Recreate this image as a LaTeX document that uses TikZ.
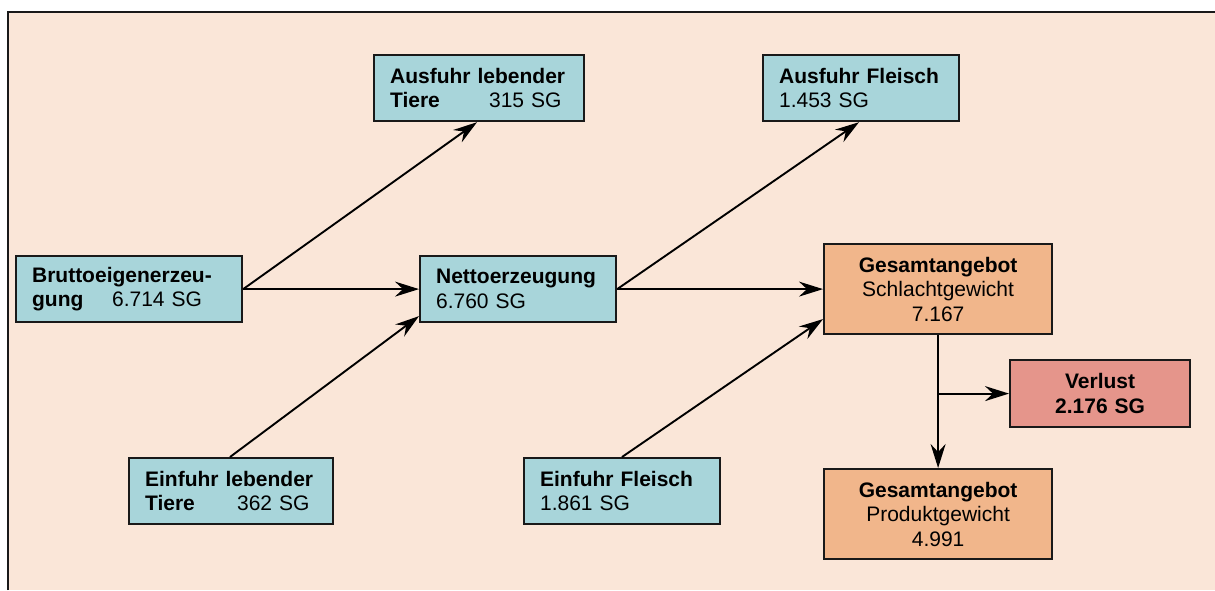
\documentclass[tikz,border=0pt]{standalone}
\usepackage{fontspec}
\setmainfont{Liberation Sans}
\usetikzlibrary{arrows.meta}
\definecolor{bgpeach}{RGB}{250,230,216}
\definecolor{boxblue}{RGB}{168,213,218}
\definecolor{boxorange}{RGB}{241,182,139}
\definecolor{boxred}{RGB}{229,149,139}
\begin{document}
\begin{tikzpicture}[x=1pt,y=-1pt,
  box/.style={draw=black!90, line width=2.2pt, anchor=north west, inner xsep=16pt, inner ysep=0pt, font=\fontsize{21}{24.5}\selectfont},
  bluebox/.style={box, fill=boxblue, align=left},
  orangebox/.style={box, fill=boxorange, align=center},
  redbox/.style={box, fill=boxred, align=center, font=\fontsize{21}{24.5}\selectfont\bfseries},
  flow/.style={line width=1.9pt, -{Stealth[length=24pt,width=15pt,inset=8pt]}}]
\useasboundingbox (0,0) rectangle (1215,590);
\fill[white] (0,0) rectangle (1215,590);
\fill[bgpeach] (8,12) rectangle (1215,590);
\draw[line width=2.5pt, black!90] (8,590) -- (8,12) -- (1215,12);

\node[bluebox, text width=194pt, minimum height=66pt] (bru) at (15,255)
  {\textbf{Bruttoeigenerzeu-}\\\makebox[80pt][l]{\textbf{gung}}6.714 SG};
\node[bluebox, text width=178pt, minimum height=66pt] (alt) at (373,54)
  {\textbf{Ausfuhr lebender}\\\makebox[99pt][l]{\textbf{Tiere}}315 SG};
\node[bluebox, text width=164pt, minimum height=66pt] (afl) at (762,54)
  {\textbf{Ausfuhr Fleisch}\\1.453 SG};
\node[bluebox, text width=164pt, minimum height=66pt] (net) at (419,255)
  {\textbf{Nettoerzeugung}\\6.760 SG};
\node[bluebox, text width=172pt, minimum height=66pt] (elt) at (128,457)
  {\textbf{Einfuhr lebender}\\\makebox[92pt][l]{\textbf{Tiere}}362 SG};
\node[bluebox, text width=164pt, minimum height=66pt] (efl) at (523,457)
  {\textbf{Einfuhr Fleisch}\\1.861 SG};
\node[orangebox, text width=196pt, minimum height=90pt] (gs) at (823,243)
  {\textbf{Gesamtangebot}\\Schlachtgewicht\\7.167};
\node[redbox, text width=148pt, minimum height=67pt] (ver) at (1009,359)
  {Verlust\\2.176 SG};
\node[orangebox, text width=196pt, minimum height=90pt] (gp) at (823,468)
  {\textbf{Gesamtangebot}\\Produktgewicht\\4.991};

\draw[flow] (bru.east) -- (net.west);
\draw[flow] (bru.east) -- ([xshift=104pt]alt.south west);
\draw[flow] ([xshift=102pt]elt.north west) -- ([yshift=-27pt]net.west);
\draw[flow] (net.east) -- ([xshift=97pt]afl.south west);
\draw[flow] (net.east) -- (gs.west);
\draw[flow] ([xshift=99pt]efl.north west) -- ([yshift=-30pt]gs.west);
\draw[flow] (gs.south) -- (gp.north);
\coordinate (br) at (gs.south |- ver.west);
\draw[flow] (br) -- (ver.west);
\end{tikzpicture}
\end{document}
